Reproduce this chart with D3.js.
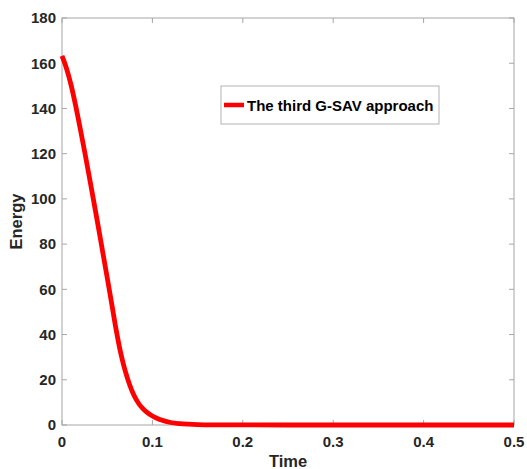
<!DOCTYPE html>
<html><head><meta charset="utf-8">
<script src="https://cdn.jsdelivr.net/npm/d3@7"></script>
<style>body{margin:0;background:#fff;} text{font-family:"Liberation Sans",Arial,Helvetica,sans-serif;font-weight:bold;}</style>
</head><body>
<svg id="c" width="527" height="469"></svg>
<script>
const timeVals   = [0, 0.005, 0.01, 0.015, 0.02, 0.025, 0.03, 0.035, 0.04, 0.045, 0.05, 0.055, 0.06, 0.065, 0.07, 0.075, 0.08, 0.085, 0.09, 0.095, 0.1, 0.105, 0.11, 0.12, 0.13, 0.14, 0.15, 0.17, 0.2, 0.3, 0.4, 0.5];
const energyVals = [163.2, 157.7, 150.4, 141.4, 131.4, 121.0, 110.2, 99.2, 88.0, 76.6, 65.2, 53.6, 41.9, 31.7, 23.8, 17.6, 12.8, 9.4, 7.0, 5.3, 4.0, 3.0, 2.2, 1.1, 0.6, 0.35, 0.2, 0.08, 0.03, 0, 0, 0];
const xTicks = [0, 0.1, 0.2, 0.3, 0.4, 0.5];
const yTicks = [0, 20, 40, 60, 80, 100, 120, 140, 160, 180];
const seriesName = "The third G-SAV approach";

const svg = d3.select("#c");
const L = 62, R = 514, T = 18, B = 425;
const x = d3.scaleLinear().domain([0, 0.5]).range([L, R]);
const y = d3.scaleLinear().domain([0, 180]).range([B, T]);
const axisCol = "#a6a6a6", textCol = "#262626";

svg.append("rect").attr("x", L).attr("y", T).attr("width", R - L).attr("height", B - T)
  .attr("fill", "#fff").attr("stroke", axisCol).attr("stroke-width", 1);

const tl = 5;
xTicks.forEach(v => {
  svg.append("line").attr("x1", x(v)).attr("x2", x(v)).attr("y1", B).attr("y2", B - tl).attr("stroke", axisCol);
  svg.append("line").attr("x1", x(v)).attr("x2", x(v)).attr("y1", T).attr("y2", T + tl).attr("stroke", axisCol);
  svg.append("text").attr("x", x(v)).attr("y", B + 21.5).attr("text-anchor", "middle")
    .attr("font-size", 15).attr("fill", textCol).text(v === 0 ? "0" : d3.format(".1f")(v));
});
yTicks.forEach(v => {
  svg.append("line").attr("x1", L).attr("x2", L + tl).attr("y1", y(v)).attr("y2", y(v)).attr("stroke", axisCol);
  svg.append("line").attr("x1", R).attr("x2", R - tl).attr("y1", y(v)).attr("y2", y(v)).attr("stroke", axisCol);
  svg.append("text").attr("x", L - 6).attr("y", y(v) + 5.3).attr("text-anchor", "end")
    .attr("font-size", 15).attr("fill", textCol).text(v);
});

svg.append("text").attr("x", (L + R) / 2).attr("y", 467).attr("text-anchor", "middle")
  .attr("font-size", 16.5).attr("fill", textCol).text("Time");
svg.append("text").attr("transform", `translate(22,${(T + B) / 2}) rotate(-90)`).attr("text-anchor", "middle")
  .attr("font-size", 16.5).attr("fill", textCol).text("Energy");

const data = timeVals.map((t, i) => [t, energyVals[i]]);
svg.append("path").datum(data)
  .attr("d", d3.line().x(d => x(d[0])).y(d => y(d[1])).curve(d3.curveMonotoneX))
  .attr("fill", "none").attr("stroke", "#ff0000").attr("stroke-width", 4.8).attr("stroke-linejoin", "round");

const lg = svg.append("g");
lg.append("rect").attr("x", 221).attr("y", 86).attr("width", 218).attr("height", 38)
  .attr("fill", "#fff").attr("stroke", "#b3b3b3").attr("stroke-width", 1);
lg.append("line").attr("x1", 224).attr("x2", 244).attr("y1", 105).attr("y2", 105)
  .attr("stroke", "#ff0000").attr("stroke-width", 4.5);
lg.append("text").attr("x", 247).attr("y", 111).attr("font-size", 15).attr("fill", "#000").text(seriesName);
</script>
</body></html>
